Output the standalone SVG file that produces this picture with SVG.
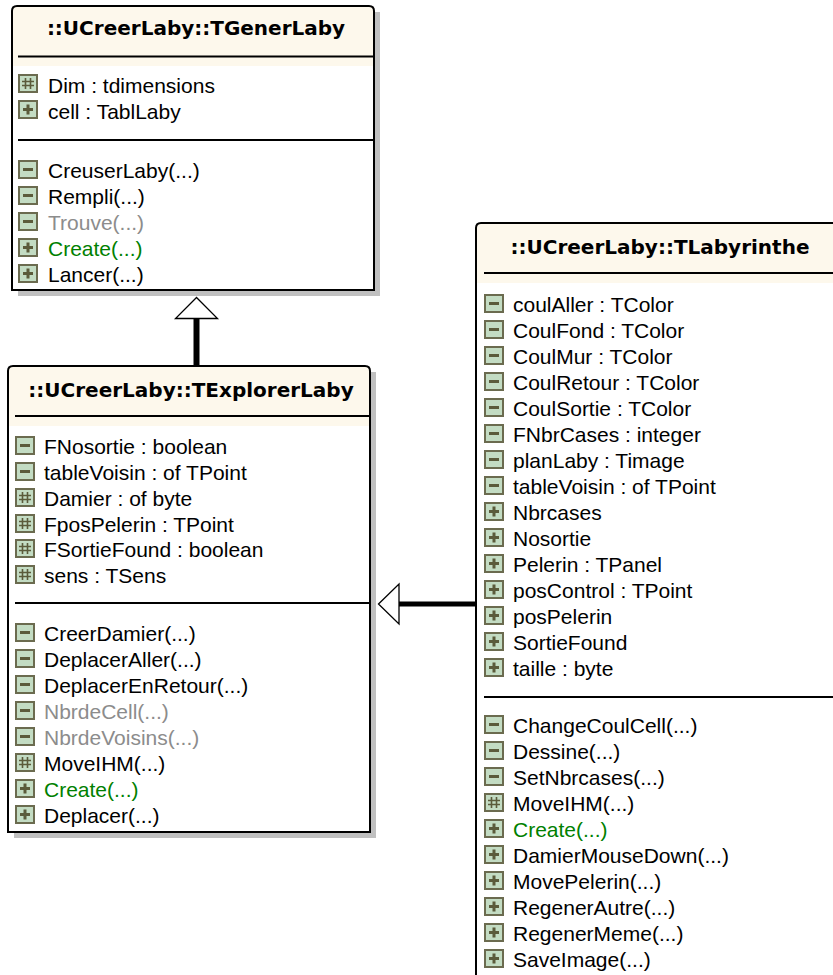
<svg xmlns="http://www.w3.org/2000/svg" xmlns:xlink="http://www.w3.org/1999/xlink" width="833" height="975" viewBox="0 0 833 975">
<style>
.shadow{fill:#c0c0c0}
.body{fill:#ffffff}
.hdr{fill:#fdf8ec}
.border{fill:none;stroke:#000;stroke-width:2}
.sep{stroke:#000;stroke-width:2}
.title{font-family:"DejaVu Sans",Verdana,sans-serif;font-weight:bold;font-size:20px;text-anchor:middle;fill:#000}
.m{font-family:"Liberation Sans",Arial,sans-serif;font-size:21px;fill:#000}
.gray{fill:#8c8c8c}
.green{fill:#008000}
.ibox{fill:#c3dcc3;stroke:#6b6b4f;stroke-width:2}
.isym{fill:#5b5b3b}
.ihash{stroke:#5b5b3b;stroke-width:1.6;fill:none}
.conn{stroke:#000;fill:none}
.head{fill:#fff;stroke:#000;stroke-width:1.3;stroke-linejoin:miter}
</style>
<defs>
<g id="i-priv"><rect class="ibox" x="1" y="1" width="18" height="17"/><rect class="isym" x="5" y="8" width="10" height="3"/></g>
<g id="i-pub"><rect class="ibox" x="1" y="1" width="18" height="17"/><rect class="isym" x="5" y="8" width="10" height="3"/><rect class="isym" x="8.5" y="4.5" width="3" height="10"/></g>
<g id="i-prot"><rect class="ibox" x="1" y="1" width="18" height="17"/><path class="ihash" d="M7.5,4V15M12.5,4V15M4,7.5H16M4,11.5H16"/></g>
</defs>

<g id="connectors">
<g id="gen-explorer-gener">
<line class="conn" x1="196.5" y1="318" x2="196.5" y2="366" stroke-width="6"/>
<polygon class="head" points="196.5,297.5 175.5,318.5 217.5,318.5"/>
</g>
<g id="gen-labyrinthe-explorer">
<line class="conn" x1="399" y1="604" x2="476" y2="604" stroke-width="5"/>
<polygon class="head" points="378.5,604 399,584 399,624"/>
</g>
</g>

<g id="TGenerLaby">
<rect class="shadow" x="18" y="12" width="362" height="284"/>
<path class="body" d="M12,290V11Q12,6 17,6H369Q374,6 374,11V290Z"/>
<path class="hdr" d="M12,66V11Q12,6 17,6H369Q374,6 374,11V66Z"/>
<path class="border" d="M12,290V11Q12,6 17,6H369Q374,6 374,11V290Z"/>
<text class="title" x="196" y="35">::UCreerLaby::TGenerLaby</text>
<line class="sep" x1="18" y1="56.5" x2="374" y2="56.5"/>
<line class="sep" x1="18" y1="140" x2="374" y2="140"/>
<use xlink:href="#i-prot" x="18" y="74"/><text class="m" x="48" y="93">Dim : tdimensions</text>
<use xlink:href="#i-pub" x="18" y="100"/><text class="m" x="48" y="119">cell : TablLaby</text>
<use xlink:href="#i-priv" x="18" y="160"/><text class="m" x="48" y="178">CreuserLaby(...)</text>
<use xlink:href="#i-priv" x="18" y="186"/><text class="m" x="48" y="204">Rempli(...)</text>
<use xlink:href="#i-priv" x="18" y="212"/><text class="m gray" x="48" y="230">Trouve(...)</text>
<use xlink:href="#i-pub" x="18" y="238"/><text class="m green" x="48" y="256">Create(...)</text>
<use xlink:href="#i-pub" x="18" y="264"/><text class="m" x="48" y="282">Lancer(...)</text>
</g>

<g id="TExplorerLaby">
<rect class="shadow" x="14" y="372" width="362" height="466"/>
<path class="body" d="M8,832V371Q8,366 13,366H365Q370,366 370,371V832Z"/>
<path class="hdr" d="M8,426V371Q8,366 13,366H365Q370,366 370,371V426Z"/>
<path class="border" d="M8,832V371Q8,366 13,366H365Q370,366 370,371V832Z"/>
<text class="title" x="191" y="397">::UCreerLaby::TExplorerLaby</text>
<line class="sep" x1="15" y1="416" x2="370" y2="416"/>
<line class="sep" x1="15" y1="603" x2="370" y2="603"/>
<use xlink:href="#i-priv" x="15" y="436"/><text class="m" x="44" y="454">FNosortie : boolean</text>
<use xlink:href="#i-priv" x="15" y="462"/><text class="m" x="44" y="480">tableVoisin : of TPoint</text>
<use xlink:href="#i-prot" x="15" y="488"/><text class="m" x="44" y="506">Damier : of byte</text>
<use xlink:href="#i-prot" x="15" y="514"/><text class="m" x="44" y="532">FposPelerin : TPoint</text>
<use xlink:href="#i-prot" x="15" y="539"/><text class="m" x="44" y="557">FSortieFound : boolean</text>
<use xlink:href="#i-prot" x="15" y="565"/><text class="m" x="44" y="583">sens : TSens</text>
<use xlink:href="#i-priv" x="15" y="623"/><text class="m" x="44" y="641">CreerDamier(...)</text>
<use xlink:href="#i-priv" x="15" y="649"/><text class="m" x="44" y="667">DeplacerAller(...)</text>
<use xlink:href="#i-priv" x="15" y="675"/><text class="m" x="44" y="693">DeplacerEnRetour(...)</text>
<use xlink:href="#i-priv" x="15" y="701"/><text class="m gray" x="44" y="719">NbrdeCell(...)</text>
<use xlink:href="#i-priv" x="15" y="727"/><text class="m gray" x="44" y="745">NbrdeVoisins(...)</text>
<use xlink:href="#i-prot" x="15" y="753"/><text class="m" x="44" y="771">MoveIHM(...)</text>
<use xlink:href="#i-pub" x="15" y="779"/><text class="m green" x="44" y="797">Create(...)</text>
<use xlink:href="#i-pub" x="15" y="805"/><text class="m" x="44" y="823">Deplacer(...)</text>
</g>

<g id="TLabyrinthe">
<path class="body" d="M476,990V228Q476,223 481,223H850V990Z"/>
<path class="hdr" d="M476,283V228Q476,223 481,223H850V283Z"/>
<path class="border" d="M476,990V228Q476,223 481,223H850V990Z"/>
<text class="title" x="660" y="254">::UCreerLaby::TLabyrinthe</text>
<line class="sep" x1="484" y1="273" x2="850" y2="273"/>
<line class="sep" x1="484" y1="697" x2="850" y2="697"/>
<use xlink:href="#i-priv" x="484" y="294"/><text class="m" x="513" y="312">coulAller : TColor</text>
<use xlink:href="#i-priv" x="484" y="320"/><text class="m" x="513" y="338">CoulFond : TColor</text>
<use xlink:href="#i-priv" x="484" y="346"/><text class="m" x="513" y="364">CoulMur : TColor</text>
<use xlink:href="#i-priv" x="484" y="372"/><text class="m" x="513" y="390">CoulRetour : TColor</text>
<use xlink:href="#i-priv" x="484" y="398"/><text class="m" x="513" y="416">CoulSortie : TColor</text>
<use xlink:href="#i-priv" x="484" y="424"/><text class="m" x="513" y="442">FNbrCases : integer</text>
<use xlink:href="#i-priv" x="484" y="450"/><text class="m" x="513" y="468">planLaby : Timage</text>
<use xlink:href="#i-priv" x="484" y="476"/><text class="m" x="513" y="494">tableVoisin : of TPoint</text>
<use xlink:href="#i-pub" x="484" y="502"/><text class="m" x="513" y="520">Nbrcases</text>
<use xlink:href="#i-pub" x="484" y="528"/><text class="m" x="513" y="546">Nosortie</text>
<use xlink:href="#i-pub" x="484" y="554"/><text class="m" x="513" y="572">Pelerin : TPanel</text>
<use xlink:href="#i-pub" x="484" y="580"/><text class="m" x="513" y="598">posControl : TPoint</text>
<use xlink:href="#i-pub" x="484" y="606"/><text class="m" x="513" y="624">posPelerin</text>
<use xlink:href="#i-pub" x="484" y="632"/><text class="m" x="513" y="650">SortieFound</text>
<use xlink:href="#i-pub" x="484" y="658"/><text class="m" x="513" y="676">taille : byte</text>
<use xlink:href="#i-priv" x="484" y="715"/><text class="m" x="513" y="733">ChangeCoulCell(...)</text>
<use xlink:href="#i-priv" x="484" y="741"/><text class="m" x="513" y="759">Dessine(...)</text>
<use xlink:href="#i-priv" x="484" y="767"/><text class="m" x="513" y="785">SetNbrcases(...)</text>
<use xlink:href="#i-prot" x="484" y="793"/><text class="m" x="513" y="811">MoveIHM(...)</text>
<use xlink:href="#i-pub" x="484" y="819"/><text class="m green" x="513" y="837">Create(...)</text>
<use xlink:href="#i-pub" x="484" y="845"/><text class="m" x="513" y="863">DamierMouseDown(...)</text>
<use xlink:href="#i-pub" x="484" y="871"/><text class="m" x="513" y="889">MovePelerin(...)</text>
<use xlink:href="#i-pub" x="484" y="897"/><text class="m" x="513" y="915">RegenerAutre(...)</text>
<use xlink:href="#i-pub" x="484" y="923"/><text class="m" x="513" y="941">RegenerMeme(...)</text>
<use xlink:href="#i-pub" x="484" y="949"/><text class="m" x="513" y="967">SaveImage(...)</text>
</g>
</svg>
